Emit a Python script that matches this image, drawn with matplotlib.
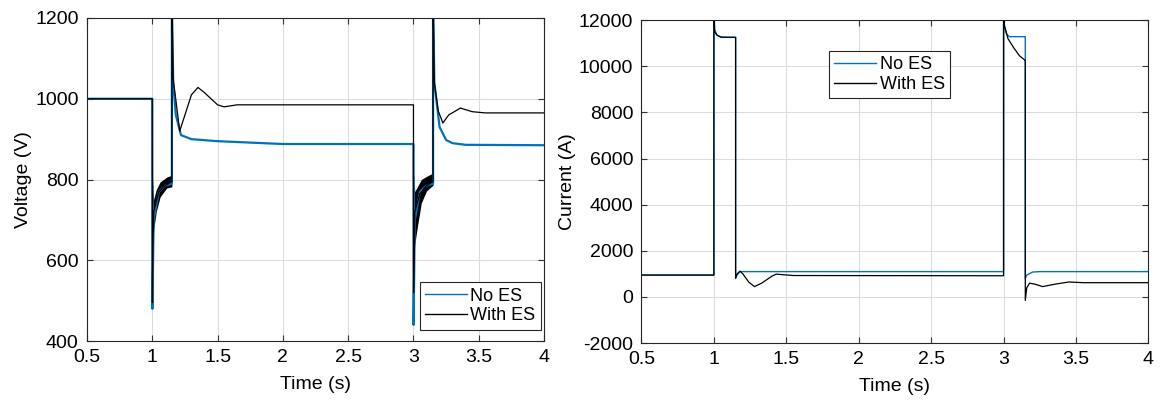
import numpy as np
import matplotlib
matplotlib.use("Agg")
import matplotlib.pyplot as plt

plt.rcParams['font.family'] = ['Liberation Sans', 'DejaVu Sans']
plt.rcParams['axes.unicode_minus'] = False

blue = '#0072BD'

# voltage, no energy storage
vt_no = [0.5, 1.0, 1.001, 1.01, 1.05, 1.1, 1.15, 1.15, 1.16, 1.18, 1.22, 1.3, 1.5, 2.0,
         3.0, 3.001, 3.01, 3.05, 3.1, 3.15, 3.15, 3.16, 3.2, 3.25, 3.3, 3.4, 4.0]
v_no = [1000, 1000, 480, 700, 770, 785, 790, 1250, 1040, 960, 910, 900, 895, 888,
        888, 440, 700, 770, 785, 790, 1250, 1040, 930, 898, 890, 886, 885]

# voltage, with energy storage
vt_es = [0.5, 1.0, 1.001, 1.005, 1.01, 1.05, 1.1, 1.15, 1.15, 1.16, 1.19, 1.21, 1.25, 1.3,
         1.35, 1.4, 1.5, 1.55, 1.65, 3.0, 3.001, 3.01, 3.05, 3.1, 3.15, 3.15, 3.16, 3.19,
         3.225, 3.27, 3.36, 3.45, 3.55, 4.0]
v_es = [1000, 1000, 495, 640, 720, 770, 785, 795, 1250, 1050, 972, 920, 960, 1010,
        1028, 1015, 985, 980, 985, 985, 520, 720, 765, 785, 795, 1250, 1040, 970,
        940, 960, 977, 968, 965, 965]

# ripple envelopes (with ES) during the two faults
band1_t = [1.003, 1.01, 1.03, 1.06, 1.11, 1.15]
band1_hi = [810, 750, 775, 794, 806, 811]
band1_lo = [640, 675, 720, 757, 779, 782]
band2_t = [3.003, 3.01, 3.03, 3.06, 3.1, 3.15]
band2_hi = [816, 770, 782, 800, 808, 816]
band2_lo = [600, 640, 683, 742, 772, 786]

# current, no energy storage
it_no = [0.5, 1.0, 1.0, 1.005, 1.02, 1.05, 1.15, 1.15, 1.16, 1.18, 3.0, 3.0, 3.005, 3.02,
         3.04, 3.15, 3.15, 3.16, 3.2, 3.25, 4.0]
i_no = [950, 950, 12500, 11600, 11350, 11250, 11250, 800, 950, 1100, 1100, 12500, 11700, 11400,
        11280, 11280, 800, 950, 1080, 1100, 1100]

# current, with energy storage
it_es = [0.5, 1.0, 1.0, 1.005, 1.02, 1.05, 1.15, 1.15, 1.16, 1.18, 1.2, 1.24, 1.28, 1.33,
         1.4, 1.43, 1.55, 3.0, 3.0, 3.005, 3.03, 3.07, 3.11, 3.15, 3.15, 3.16, 3.18, 3.22,
         3.27, 3.35, 3.45, 3.55, 4.0]
i_es = [950, 950, 12500, 11500, 11350, 11260, 11250, 820, 1000, 1120, 1000, 650, 450, 600,
        900, 990, 930, 920, 12500, 11800, 11200, 10800, 10450, 10250, -150, 400, 600, 550,
        450, 550, 650, 620, 620]

xticks = [0.5, 1, 1.5, 2, 2.5, 3, 3.5, 4]
xticklabels = ['0.5', '1', '1.5', '2', '2.5', '3', '3.5', '4']

fig = plt.figure(figsize=(11.6, 4.09), dpi=100)
ax1 = fig.add_axes([0.075, 0.166, 0.394, 0.790])
ax2 = fig.add_axes([0.553, 0.161, 0.437, 0.790])

ax1.plot(vt_no, v_no, color=blue, lw=1.6, label='No ES')
ax1.plot(vt_es, v_es, color='black', lw=0.9, label='With ES')
ax1.fill_between(band1_t, band1_lo, band1_hi, color='black', lw=0)
ax1.fill_between(band2_t, band2_lo, band2_hi, color='black', lw=0)
ax1.set_ylim(400, 1200)
ax1.set_yticks([400, 600, 800, 1000, 1200])
ax1.set_ylabel('Voltage (V)', fontsize=14, labelpad=2)

ax2.plot(it_no, i_no, color=blue, lw=1.0, label='No ES')
ax2.plot(it_es, i_es, color='black', lw=0.9, label='With ES')
ax2.set_ylim(-2000, 12000)
ax2.set_yticks(range(-2000, 12001, 2000))
ax2.set_ylabel('Current (A)', fontsize=14, labelpad=2)

leg_kw = dict(fontsize=13, fancybox=False, edgecolor='#262626', framealpha=1,
              handlelength=2.3, handletextpad=0.2, borderpad=0.3, labelspacing=0.15,
              borderaxespad=0)
l1 = ax1.legend(loc='lower right', bbox_to_anchor=(0.993, 0.035), **leg_kw)
l2 = ax2.legend(loc='upper left', bbox_to_anchor=(0.37, 0.905), **leg_kw)
for l in (l1, l2):
    l.get_frame().set_linewidth(0.8)
    for h in l.get_lines():
        h.set_linewidth(1.0)

for ax in (ax1, ax2):
    ax.set_xlim(0.5, 4)
    ax.set_xticks(xticks)
    ax.set_xticklabels(xticklabels)
    ax.set_xlabel('Time (s)', fontsize=14, labelpad=7)
    ax.grid(True, color='#dcdcdc', lw=0.8)
    ax.set_axisbelow(True)
    ax.tick_params(direction='in', top=True, right=True, labelsize=14, length=4,
                   color='#333333', pad=6)
    for s in ax.spines.values():
        s.set_color('#262626')
        s.set_linewidth(0.8)

fig.savefig('out.png', dpi=100)
